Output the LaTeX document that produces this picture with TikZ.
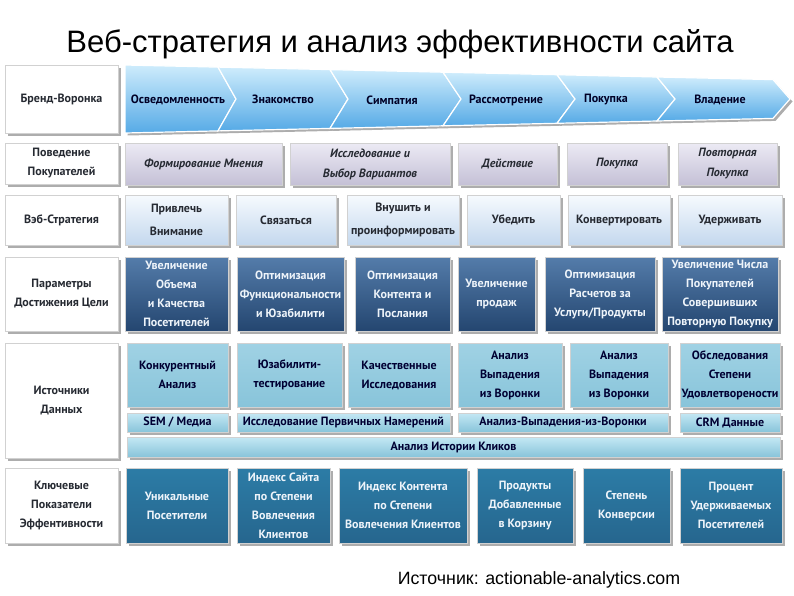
\documentclass[tikz,border=0pt]{standalone}
\usepackage{fontspec}
\setmainfont{Liberation Sans}
\newfontfamily\cellfont{PT Sans}
\usetikzlibrary{shadows}
\definecolor{txtdark}{RGB}{38,42,50}
\definecolor{txtlight}{RGB}{238,244,250}
\definecolor{chevtop}{RGB}{206,236,252}
\definecolor{chevbot}{RGB}{86,170,230}
\definecolor{lavtop}{RGB}{236,234,244}
\definecolor{lavbot}{RGB}{196,192,214}
\definecolor{paletop}{RGB}{246,250,254}
\definecolor{palebot}{RGB}{196,216,238}
\definecolor{steeltop}{RGB}{84,124,170}
\definecolor{steelbot}{RGB}{36,70,112}
\definecolor{cyantop}{RGB}{160,210,228}
\definecolor{cyanmid}{RGB}{196,232,244}
\definecolor{cyanbot}{RGB}{136,196,218}
\definecolor{tealtop}{RGB}{44,124,166}
\definecolor{tealmid}{RGB}{96,166,202}
\definecolor{tealbot}{RGB}{38,102,142}
\begin{document}
\begin{tikzpicture}[x=1pt,y=-1pt,
  shade/.style={drop shadow={shadow xshift=2.5pt,shadow yshift=-2.5pt,fill=black!32,opacity=1}},
  cell/.style={shade,draw=black!18,line width=0.4pt,align=center,inner sep=0pt,outer sep=0pt,
    font=\cellfont\bfseries\fontsize{12}{19}\selectfont,text=txtdark},
  side/.style={cell,fill=white,minimum width=113pt},
  chev/.style={shade,draw=white,line width=1.2pt,top color=chevtop,bottom color=chevbot},
  chevtext/.style={font=\cellfont\bfseries\fontsize{12}{14}\selectfont,text=black!85!blue},
  behave/.style={cell,minimum height=42pt,top color=lavtop,bottom color=lavbot,
    font=\cellfont\bfseries\itshape\fontsize{12}{20}\selectfont},
  webcell/.style={cell,minimum height=50pt,top color=paletop,bottom color=palebot,
    font=\cellfont\bfseries\fontsize{12}{23}\selectfont},
  goalcell/.style={cell,minimum height=74pt,top color=steeltop,bottom color=steelbot,text=txtlight},
  srccell/.style={cell,top color=cyantop,middle color=cyanmid,bottom color=cyanbot,text=black!80!blue},
  kpicell/.style={cell,minimum height=75pt,top color=tealtop,middle color=tealmid,bottom color=tealbot,text=txtlight}]
\useasboundingbox (0,0) rectangle (794,595);
% title
\node[anchor=base,font=\fontsize{31}{33}\selectfont] (title) at (400,52) {Веб-стратегия и анализ эффективности сайта};
% left column
\node[side,minimum height=68pt] (brand) at (61.5,99) {Бренд-Воронка};
\node[side,minimum height=41pt] (behav) at (61.5,163.5) {Поведение\\Покупателей};
\node[side,minimum height=50pt] (web) at (61.5,220) {Вэб-Стратегия};
\node[side,minimum height=74pt] (goal) at (61.5,294) {Параметры\\Достижения Цели};
\node[side,minimum height=115pt] (src) at (61.5,400.5) {Источники\\Данных};
\node[side,minimum height=75pt] (kpi) at (61.5,505.5) {Ключевые\\Показатели\\Эффентивности};
% funnel
\draw[chev] (125,65) -- (218,67.1) -- (236,99) -- (218,130.9) -- (125,133) -- cycle;
\draw[chev] (218,67.1) -- (330,69.6) -- (348,99) -- (330,128.4) -- (218,130.9) -- (236,99) -- cycle;
\draw[chev] (330,69.6) -- (443,72.2) -- (461,99) -- (443,125.8) -- (330,128.4) -- (348,99) -- cycle;
\draw[chev] (443,72.2) -- (557,74.7) -- (575,99) -- (557,123.3) -- (443,125.8) -- (461,99) -- cycle;
\draw[chev] (557,74.7) -- (657,77.0) -- (675,99) -- (657,121.0) -- (557,123.3) -- (575,99) -- cycle;
\draw[chev] (657,77.0) -- (773,79.6) -- (790,99) -- (773,118.4) -- (657,121.0) -- (675,99) -- cycle;
\node[chevtext] (aware) at (178,100) {Осведомленность};
\node[chevtext] (know) at (283,99) {Знакомство};
\node[chevtext] (like) at (392,100) {Симпатия};
\node[chevtext] (consid) at (506,100) {Рассмотрение};
\node[chevtext] (buy) at (606,100) {Покупка};
\node[chevtext] (own) at (720,100) {Владение};
% behaviour
\node[behave,minimum width=157pt] (opin) at (203.5,164) {Формирование Мнения};
\node[behave,minimum width=160pt] (research) at (370,164) {Исследование и\\Выбор Вариантов};
\node[behave,minimum width=99pt] (act) at (507.5,164) {Действие};
\node[behave,minimum width=100pt] (purch) at (617,164) {Покупка};
\node[behave,minimum width=99pt] (repeat) at (727.5,164) {Повторная\\Покупка};
% web strategy
\node[webcell,minimum width=103pt] (attract) at (176.5,220) {Привлечь\\Внимание};
\node[webcell,minimum width=100pt] (engage) at (286,220) {Связаться};
\node[webcell,minimum width=112pt] (inform) at (403,220) {Внушить и\\проинформировать};
\node[webcell,minimum width=93pt] (convince) at (513.5,220) {Убедить};
\node[webcell,minimum width=102pt] (convert) at (619,220) {Конвертировать};
\node[webcell,minimum width=104pt] (retain) at (730,220) {Удерживать};
% goals
\node[goalcell,minimum width=103pt] (volume) at (176.5,294) {Увеличение\\Объема\\и Качества\\Посетителей};
\node[goalcell,minimum width=107pt] (usab) at (290.5,294) {Оптимизация\\Функциональности\\и Юзабилити};
\node[goalcell,minimum width=95pt] (content) at (402.5,294) {Оптимизация\\Контента и\\Послания};
\node[goalcell,minimum width=77pt] (sales) at (496.5,294) {Увеличение\\продаж};
\node[goalcell,minimum width=110pt] (pay) at (600,294) {Оптимизация\\Расчетов за\\Услуги/Продукты};
\node[goalcell,minimum width=116pt] (loyal) at (720,294) {Увеличение Числа\\Покупателей\\Совершивших\\Повторную Покупку};
% data sources
\node[srccell,minimum height=64pt,minimum width=101pt] (comp) at (177.5,375) {Конкурентный\\Анализ};
\node[srccell,minimum height=64pt,minimum width=105pt] (utest) at (289.5,375) {Юзабилити-\\тестирование};
\node[srccell,minimum height=64pt,minimum width=102pt] (qual) at (399,375) {Качественные\\Исследования};
\node[srccell,minimum height=64pt,minimum width=104pt] (fall) at (510,375) {Анализ\\Выпадения\\из Воронки};
\node[srccell,minimum height=64pt,minimum width=98pt] (drop) at (619,375) {Анализ\\Выпадения\\из Воронки};
\node[srccell,minimum height=64pt,minimum width=100pt] (survey) at (730,375) {Обследования\\Степени\\Удовлетворености};
\node[srccell,minimum height=19pt,minimum width=101pt,top color=cyanmid] (sem) at (177.5,422.5) {SEM / Медиа};
\node[srccell,minimum height=19pt,minimum width=213pt,top color=cyanmid] (intent) at (343.5,422.5) {Исследование Первичных Намерений};
\node[srccell,minimum height=19pt,minimum width=210pt,top color=cyanmid] (funnel) at (563,422.5) {Анализ-Выпадения-из-Воронки};
\node[srccell,minimum height=19pt,minimum width=100pt,top color=cyanmid] (crm) at (730,422.5) {CRM Данные};
\node[srccell,minimum height=20pt,minimum width=653pt,top color=cyanmid] (clicks) at (453.5,447) {Анализ Истории Кликов};
% kpi
\node[kpicell,minimum width=102pt] (uniq) at (177,505.5) {Уникальные\\Посетители};
\node[kpicell,minimum width=93pt] (siteidx) at (283.5,505.5) {Индекс Сайта\\по Степени\\Вовлечения\\Клиентов};
\node[kpicell,minimum width=128pt] (contidx) at (403,505.5) {Индекс Контента\\по Степени\\Вовлечения Клиентов};
\node[kpicell,minimum width=96pt] (cart) at (525,505.5) {Продукты\\Добавленные\\в Корзину};
\node[kpicell,minimum width=87pt] (conv) at (626.5,505.5) {Степень\\Конверсии};
\node[kpicell,minimum width=102pt] (reten) at (731,505.5) {Процент\\Удерживаемых\\Посетителей};
% source
\node[anchor=base,font=\fontsize{17.8}{20}\selectfont] (cite) at (539,584) {Источник: actionable-analytics.com};
\end{tikzpicture}
\end{document}
